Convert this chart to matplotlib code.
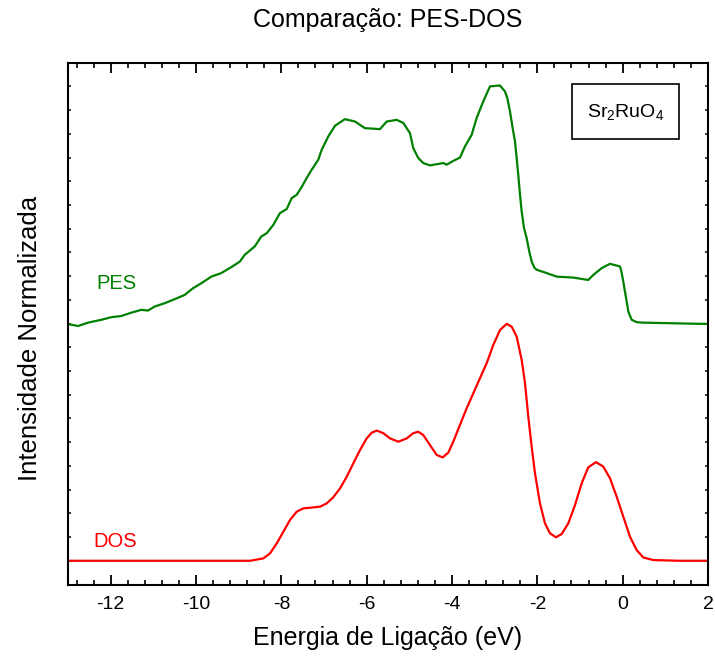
import matplotlib
matplotlib.use("Agg")
import matplotlib.pyplot as plt
from matplotlib.ticker import MultipleLocator, NullLocator, NullFormatter
from matplotlib.patches import Rectangle

plt.rcParams['font.family'] = ['Liberation Sans', 'DejaVu Sans']
plt.rcParams['mathtext.default'] = 'regular'
plt.rcParams['axes.unicode_minus'] = False

# DOS (red)
dos_x = [-13.0, -8.734, -8.423, -8.266, -8.109, -7.954, -7.797, -7.640, -7.485, -7.251,
         -7.094, -6.937, -6.782, -6.625, -6.468, -6.313, -6.156, -6.000, -5.882, -5.765,
         -5.610, -5.453, -5.259, -5.062, -4.907, -4.790, -4.673, -4.516, -4.359, -4.218,
         -4.087, -3.970, -3.813, -3.656, -3.501, -3.344, -3.187, -3.032, -2.875, -2.718,
         -2.601, -2.484, -2.367, -2.289, -2.212, -2.133, -2.055, -1.938, -1.821, -1.704,
         -1.563, -1.429, -1.274, -1.117, -0.960, -0.806, -0.625, -0.454, -0.297, -0.140,
         0.015, 0.172, 0.329, 0.484, 0.719, 1.344, 2.0]
dos_y = [0.0, 0.0, 0.010, 0.031, 0.073, 0.122, 0.172, 0.207, 0.221, 0.225,
         0.228, 0.242, 0.268, 0.305, 0.354, 0.411, 0.467, 0.516, 0.540, 0.549,
         0.538, 0.516, 0.502, 0.516, 0.538, 0.544, 0.530, 0.488, 0.446, 0.436,
         0.456, 0.502, 0.573, 0.643, 0.706, 0.770, 0.833, 0.910, 0.973, 0.999,
         0.987, 0.945, 0.847, 0.749, 0.608, 0.481, 0.369, 0.242, 0.158, 0.116,
         0.099, 0.113, 0.158, 0.235, 0.327, 0.394, 0.416, 0.397, 0.348, 0.270,
         0.186, 0.101, 0.045, 0.014, 0.003, 0.0, 0.0]

# PES (green) (offset by 1)
pes_x = [-13.0, -12.766, -12.531, -12.220, -11.986, -11.751, -11.517, -11.282, -11.125, -10.968,
         -10.734, -10.499, -10.265, -10.071, -9.876, -9.642, -9.407, -9.173, -8.969, -8.859,
         -8.625, -8.470, -8.343, -8.189, -8.032, -7.874, -7.757, -7.640, -7.523, -7.405,
         -7.288, -7.134, -7.054, -6.900, -6.743, -6.508, -6.274, -6.040, -5.688, -5.531,
         -5.297, -5.142, -4.985, -4.908, -4.791, -4.673, -4.516, -4.205, -4.125, -3.970,
         -3.813, -3.696, -3.539, -3.422, -3.267, -3.110, -2.876, -2.759, -2.704, -2.641,
         -2.578, -2.524, -2.484, -2.447, -2.406, -2.367, -2.313, -2.250, -2.189, -2.133,
         -2.071, -2.016, -1.781, -1.547, -1.158, -0.806, -0.689, -0.492, -0.298, -0.063,
         -0.028, 0.014, 0.054, 0.094, 0.132, 0.211, 0.328, 0.483, 1.811, 2.0]
pes_y = [0.998, 0.990, 1.004, 1.016, 1.027, 1.032, 1.046, 1.058, 1.055, 1.072,
         1.086, 1.103, 1.121, 1.149, 1.170, 1.198, 1.213, 1.238, 1.262, 1.290,
         1.325, 1.367, 1.381, 1.416, 1.466, 1.483, 1.529, 1.543, 1.576, 1.614,
         1.649, 1.691, 1.733, 1.789, 1.834, 1.862, 1.852, 1.824, 1.820, 1.852,
         1.859, 1.846, 1.803, 1.740, 1.698, 1.677, 1.667, 1.677, 1.670, 1.686,
         1.700, 1.747, 1.796, 1.867, 1.937, 2.000, 2.004, 1.979, 1.951, 1.895,
         1.824, 1.768, 1.698, 1.627, 1.543, 1.473, 1.403, 1.360, 1.304, 1.262,
         1.236, 1.227, 1.213, 1.198, 1.194, 1.184, 1.205, 1.234, 1.252, 1.241,
         1.219, 1.177, 1.135, 1.093, 1.051, 1.016, 1.006, 1.004, 0.999, 0.999]

title = "Comparação: PES-DOS"
xlabel = "Energia de Ligação (eV)"
ylabel = "Intensidade Normalizada"
sample = r'Sr$_2$RuO$_4$'

W, H = 715, 660
fig = plt.figure(figsize=(W/100, H/100), dpi=100)
ax = fig.add_axes([68/W, 1-584.5/H, 640/W, (584.5-62.7)/H])

ax.plot(pes_x, pes_y, color='#008000', lw=1.6)
ax.plot(dos_x, dos_y, color='#ff0000', lw=1.6)

ax.set_xlim(-13, 2)
ax.set_ylim(-0.1, 2.1)

ax.xaxis.set_major_locator(MultipleLocator(2))
ax.xaxis.set_minor_locator(MultipleLocator(0.4))
ax.yaxis.set_major_locator(NullLocator())
ax.yaxis.set_minor_locator(MultipleLocator(0.1))
ax.yaxis.set_minor_formatter(NullFormatter())

ax.tick_params(axis='x', which='major', direction='in', length=7, width=1.3,
               top=True, bottom=True, labelsize=14, pad=8.5)
ax.tick_params(axis='x', which='minor', direction='in', length=3.5, width=1.2,
               top=True, bottom=True)
ax.tick_params(axis='y', which='minor', direction='in', length=2.5, width=1.1,
               left=True, right=True)
for s in ax.spines.values():
    s.set_linewidth(1.5)

ax.text(-11.87, 1.17, "PES", color='#008000', fontsize=14.5, ha='center', va='center')
ax.text(-11.9, 0.08, "DOS", color='#ff0000', fontsize=14.5, ha='center', va='center')

fig.patches.append(Rectangle((572/W, 1-139.3/H), 107/W, 55/H, transform=fig.transFigure,
                             facecolor='white', edgecolor='black', lw=1.2, zorder=5))
fig.text(626/W, 1-112/H, sample, fontsize=14, ha='center', va='center', zorder=6)

fig.text(388/W, 1-20/H, title, ha='center', va='center', fontsize=18)
fig.text(388/W, 1-638/H, xlabel, ha='center', va='center', fontsize=18)
fig.text(30/W, 1-338/H, ylabel, ha='center', va='center', fontsize=18.5, rotation=90)

fig.savefig("out.png", dpi=100)
